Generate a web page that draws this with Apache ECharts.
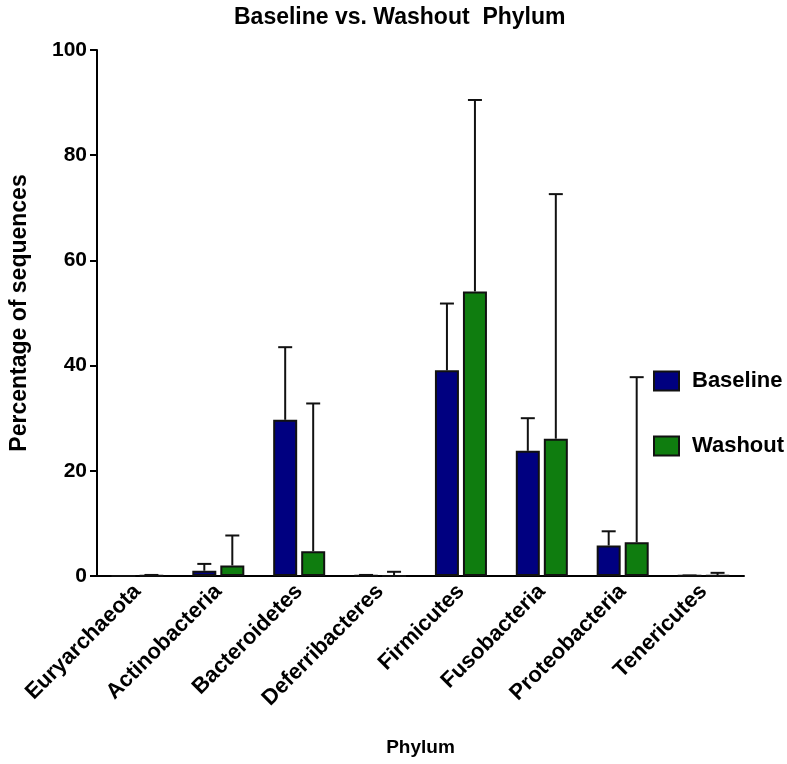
<!DOCTYPE html>
<html><head><meta charset="utf-8">
<script src="https://cdn.jsdelivr.net/npm/echarts@6/dist/echarts.min.js"></script>
<style>html,body{margin:0;padding:0;background:#fff}#c{width:787px;height:764px}</style>
</head><body><div id="c"></div>
<script>
const categories = ['Euryarchaeota','Actinobacteria','Bacteroidetes','Deferribacteres','Firmicutes','Fusobacteria','Proteobacteria','Tenericutes'];
const baseline = [0, 1.0, 29.7, 0.1, 39.1, 23.8, 5.8, 0.05];
const baselineErr = [0, 2.3, 43.5, 0.2, 51.8, 30.0, 8.5, 0.1];
const washout = [0.05, 2.0, 4.7, 0, 54.1, 26.1, 6.4, 0.1];
const washoutErr = [0.2, 7.7, 32.8, 0.8, 90.5, 72.6, 37.8, 0.6];
const yTicks = [0, 20, 40, 60, 80, 100];

const FONT = 'Liberation Sans';
const chart = echarts.init(document.getElementById('c'), null, {renderer:'canvas'});

function errSeries(name, means, tops, offset) {
  return {
    type: 'custom', name: name + ' err', silent: true, z: 1,
    data: means.map((m, i) => [i, m, tops[i]]),
    renderItem: (params, api) => {
      const p0 = api.coord([api.value(0), api.value(1)]);
      const p1 = api.coord([api.value(0), api.value(2)]);
      const x = p0[0] + offset;
      return {
        type: 'group',
        children: [
          {type:'line', shape:{x1:x, y1:p0[1], x2:x, y2:p1[1]}, style:{stroke:'#111', lineWidth:2}},
          {type:'line', shape:{x1:x-7, y1:p1[1], x2:x+7, y2:p1[1]}, style:{stroke:'#111', lineWidth:2}}
        ]
      };
    }
  };
}

chart.setOption({
  animation: false,
  title: {
    text: 'Baseline vs. Washout  Phylum', left: 229, top: 1,
    textStyle: {fontFamily: FONT, fontWeight: 'bold', fontSize: 23, color: '#000'}
  },
  legend: {
    orient: 'vertical', left: 648, top: 365, itemWidth: 25, itemHeight: 19, itemGap: 43,
    icon: 'rect',
    data: ['Baseline', 'Washout'],
    textStyle: {fontFamily: FONT, fontWeight: 'bold', fontSize: 22, lineHeight: 19, color: '#000', padding: [0,0,0,8]}
  },
  grid: {left: 92, right: 43, top: 50, bottom: 188, containLabel: false},
  xAxis: {
    type: 'category', data: categories,
    name: 'Phylum', nameLocation: 'middle', nameGap: 162,
    nameTextStyle: {fontFamily: FONT, fontWeight: 'bold', fontSize: 19, color: '#000'},
    axisLine: {lineStyle: {color: '#000', width: 2}},
    axisTick: {alignWithLabel: true, length: 9, lineStyle: {color: '#000', width: 2}},
    axisLabel: {rotate: 45, margin: 12, interval: 0, fontFamily: FONT, fontWeight: 'bold', fontSize: 22, color: '#000'}
  },
  yAxis: {
    type: 'value', min: 0, max: 100, interval: 20,
    name: 'Percentage of sequences', nameLocation: 'middle', nameGap: 66,
    nameTextStyle: {fontFamily: FONT, fontWeight: 'bold', fontSize: 23, color: '#000'},
    axisLine: {show: true, lineStyle: {color: '#000', width: 2}},
    axisTick: {show: true, length: 7, lineStyle: {color: '#000', width: 2}},
    splitLine: {show: false},
    axisLabel: {margin: 10, fontFamily: FONT, fontWeight: 'bold', fontSize: 21, color: '#000',
      formatter: v => yTicks.includes(v) ? String(v) : ''}
  },
  series: [
    errSeries('Baseline', baseline, baselineErr, -14),
    errSeries('Washout', washout, washoutErr, 14),
    {name: 'Baseline', type: 'bar', data: baseline, barWidth: 24, barGap: '16.7%', z: 2,
     itemStyle: {color: '#000080', borderColor: '#111', borderWidth: 2}},
    {name: 'Washout', type: 'bar', data: washout, barWidth: 24, barGap: '16.7%', z: 2,
     itemStyle: {color: '#0f7d0f', borderColor: '#111', borderWidth: 2}}
  ]
});
</script></body></html>
